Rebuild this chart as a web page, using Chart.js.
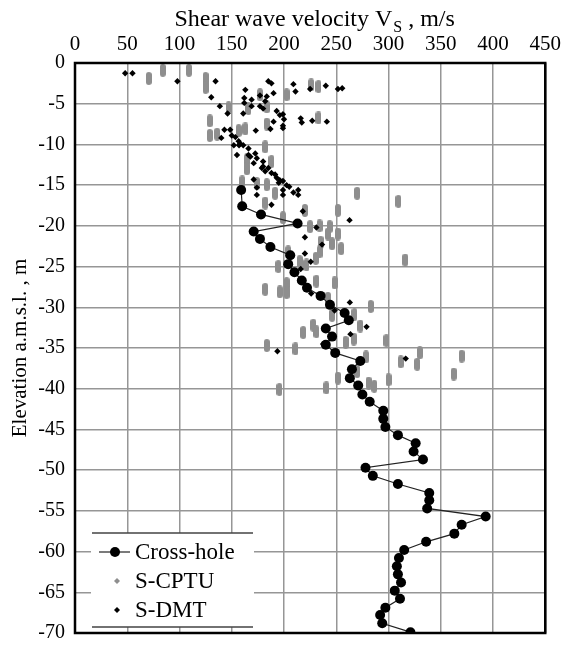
<!DOCTYPE html>
<html lang="en">
<head>
<meta charset="utf-8">
<title>Shear wave velocity profile</title>
<script src="https://cdn.jsdelivr.net/npm/chart.js"></script>
<style>
  html, body { margin: 0; padding: 0; background: #fff; }
</style>
</head>
<body>
<canvas id="vsChart" width="567" height="655"></canvas>
<script>
  // Cross-hole profile (connected points)
  const chElev = [-15.6, -17.6, -18.6, -19.7, -20.7, -21.6, -22.6, -23.6, -24.7, -25.7,
    -26.7, -27.6, -28.6, -29.7, -30.7, -31.6, -32.6, -33.6, -34.6, -35.6,
    -36.6, -37.6, -38.7, -39.6, -40.7, -41.6, -42.7, -43.7, -44.7, -45.7,
    -46.7, -47.7, -48.7, -49.7, -50.7, -51.7, -52.8, -53.7, -54.7, -55.7,
    -56.7, -57.8, -58.8, -59.8, -60.8, -61.8, -62.8, -63.8, -64.8, -65.8,
    -66.9, -67.8, -68.8, -69.9];
  const chVs = [159, 160, 178, 213, 171, 177, 187, 206, 204, 210,
    217, 222, 235, 244, 258, 262, 240, 246, 240, 249,
    273, 265, 263, 271, 275, 282, 295, 295, 297, 309,
    326, 324, 333, 278, 285, 309, 339, 339, 337, 393,
    370, 363, 336, 315, 310, 308, 309, 312, 306, 311,
    297, 292, 294, 321];

  // S-CPTU readings
  const cptuVs = [70.6, 84, 109, 125, 125, 129, 129, 136,
    202.5, 226, 233, 233, 177, 166, 183.5, 183.5, 147, 163, 156.6, 182,
    188, 164.5, 164.5, 183.5, 174, 160, 191.5, 182, 199, 220, 225, 234, 243.7,
    182, 194.6, 196, 231, 215, 235, 242, 202.5, 202.5,
    251.6, 246, 254.7, 230.4, 234, 221.5, 204, 248.4, 242, 246, 267.4, 283, 228, 273,
    231, 218.4, 259, 266.8, 298, 183.5, 211, 278.5, 251.6, 270, 281, 286.4, 300, 195.6, 240.5,
    270, 309.5, 251.6, 316, 330, 311.7, 327.5, 370, 362.4];
  const cptuElev = [-1.9, -0.9, -0.9, -1.9, -3.0, -7.1, -8.9, -8.75,
    -3.9, -2.7, -2.9, -6.75, -3.9, -5.6, -5.4, -7.5, -5.5, -8.1, -8.3, -10.3,
    -12.1, -11.9, -13.0, -14.95, -14.8, -14.6, -16.0, -17.2, -19.0, -18.1, -20.1, -20.0, -20.1,
    -27.8, -25.0, -28.1, -26.8, -24.4, -22.0, -21.0, -27.1, -28.2,
    -21.0, -22.2, -22.8, -24.0, -23.2, -24.8, -23.2, -27.0, -28.9, -31.0, -30.9, -29.9, -32.2, -32.3,
    -33.0, -33.1, -34.3, -33.9, -34.1, -34.7, -35.1, -36.1, -38.7, -37.9, -39.3, -39.7, -38.9, -40.1, -39.9,
    -16.0, -17.0, -18.1, -24.2, -35.6, -36.7, -37.0, -36.0, -38.2];

  // S-DMT readings
  const dmtVs = [48, 55, 98, 134.5, 130.4, 138.6, 146, 143, 140, 148.5,
    163, 185, 188, 190, 209, 211, 225, 240, 251.6, 255.7,
    162, 162, 169, 177, 183.5, 182, 169, 177, 180, 161, 193, 196, 199, 200, 190, 187, 199, 199, 216, 217, 227, 241, 173, 153.5,
    150, 156.6, 158, 152, 157, 161, 166, 155, 166, 172.5, 174, 171, 180, 180, 185, 188, 191.5, 193, 196, 195, 199, 202.5,
    171, 174, 174, 188, 199, 199, 205, 209, 213.6, 213.6, 218, 231,
    167.8, 178.8, 182,
    220, 236.4, 220, 225.6, 216, 226, 248.4, 263, 262.7, 279, 263.6, 237.4, 193.7, 316.5];
  const dmtElev = [-1.25, -1.25, -2.25, -2.25, -4.2, -5.3, -6.2, -8.2, -9.2, -8.2,
    -3.3, -2.25, -2.5, -3.7, -2.6, -3.5, -3.2, -2.8, -3.2, -3.1,
    -4.3, -4.9, -4.5, -4.0, -4.1, -4.7, -5.3, -5.3, -5.6, -6.2, -5.9, -6.4, -6.3, -6.9, -7.2, -8.1, -7.7, -8.0, -6.8, -7.3, -7.1, -7.2, -8.3, -9.1,
    -8.9, -9.6, -9.9, -10.1, -10.1, -10.1, -10.5, -11.3, -11.3, -11.1, -11.7, -12.3, -12.1, -12.7, -12.9, -13.5, -13.7, -14.1, -14.4, -14.7, -14.5, -15.0,
    -14.3, -15.3, -16.2, -17.4, -15.6, -16.2, -15.2, -15.9, -15.6, -16.2, -18.2, -20.2,
    -11.5, -12.9, -13.3,
    -21.4, -22.3, -23.4, -24.4, -25.3, -28.3, -30.4, -29.4, -19.3, -32.4, -33.3, -34.5, -35.4, -36.3];

  const toPoints = (xs, ys) => xs.map((v, i) => ({ x: v, y: ys[i] }));

  // gray elongated marker used for S-CPTU
  const cptuMark = document.createElement('canvas');
  cptuMark.width = 6;
  cptuMark.height = 13;
  (function () {
    const c = cptuMark.getContext('2d');
    c.fillStyle = '#8e8e8e';
    c.beginPath();
    c.moveTo(0, 3);
    c.arc(3, 3, 3, Math.PI, 0);
    c.lineTo(6, 10);
    c.arc(3, 10, 3, 0, Math.PI);
    c.closePath();
    c.fill();
  })();

  const serif = "'Liberation Serif', 'Times New Roman', serif";

  const extras = {
    id: 'extras',
    afterDraw(chart) {
      const ctx = chart.ctx;
      const a = chart.chartArea;
      ctx.save();

      // legend box
      const lx = 92, lr = 253, lt = 533, lb = 627;
      ctx.fillStyle = '#fff';
      ctx.fillRect(lx - 1, lt, lr - lx + 2, lb - lt);
      ctx.strokeStyle = '#444';
      ctx.lineWidth = 1.5;
      ctx.beginPath();
      ctx.moveTo(lx, lt); ctx.lineTo(lr, lt);
      ctx.moveTo(lx, lb); ctx.lineTo(lr, lb);
      ctx.stroke();

      ctx.strokeStyle = '#222';
      ctx.lineWidth = 1.2;
      ctx.beginPath();
      ctx.moveTo(99, 552); ctx.lineTo(130, 552);
      ctx.stroke();
      ctx.fillStyle = '#000';
      ctx.beginPath();
      ctx.arc(115, 552, 5, 0, Math.PI * 2);
      ctx.fill();

      ctx.fillStyle = '#8e8e8e';
      ctx.beginPath();
      ctx.moveTo(117, 578); ctx.lineTo(120, 581); ctx.lineTo(117, 584); ctx.lineTo(114, 581);
      ctx.fill();
      ctx.fillStyle = '#000';
      ctx.beginPath();
      ctx.moveTo(117, 607); ctx.lineTo(120, 610); ctx.lineTo(117, 613); ctx.lineTo(114, 610);
      ctx.fill();

      ctx.fillStyle = '#000';
      ctx.font = '23px ' + serif;
      ctx.textBaseline = 'middle';
      ctx.textAlign = 'left';
      ctx.fillText('Cross-hole', 135, 553);
      ctx.fillText('S-CPTU', 135, 582);
      ctx.fillText('S-DMT', 135, 611);

      // plot frame
      ctx.strokeStyle = '#000';
      ctx.lineWidth = 2.5;
      ctx.strokeRect(a.left, a.top, a.right - a.left, a.bottom - a.top);

      // top title with subscript
      const p1 = 'Shear wave velocity V', p2 = 'S', p3 = ' , m/s';
      ctx.textBaseline = 'alphabetic';
      ctx.font = '24px ' + serif;
      const w1 = ctx.measureText(p1).width, w3 = ctx.measureText(p3).width;
      ctx.font = '16px ' + serif;
      const w2 = ctx.measureText(p2).width;
      let x = (a.left + a.right) / 2 + 4 - (w1 + w2 + w3) / 2;
      ctx.font = '24px ' + serif;
      ctx.fillText(p1, x, 26);
      x += w1;
      ctx.font = '16px ' + serif;
      ctx.fillText(p2, x + 1, 32);
      x += w2 + 1;
      ctx.font = '24px ' + serif;
      ctx.fillText(p3, x, 26);

      ctx.restore();
    }
  };

  new Chart(document.getElementById('vsChart'), {
    type: 'scatter',
    data: {
      datasets: [
        {
          label: 'Cross-hole',
          data: toPoints(chVs, chElev),
          showLine: true,
          borderColor: '#222',
          borderWidth: 1.2,
          backgroundColor: '#000',
          pointBackgroundColor: '#000',
          pointBorderWidth: 0,
          pointRadius: 5,
          order: 1
        },
        {
          label: 'S-DMT',
          data: toPoints(dmtVs, dmtElev),
          pointStyle: 'rectRot',
          pointRadius: 3.2,
          pointBorderWidth: 0,
          backgroundColor: '#000',
          order: 2
        },
        {
          label: 'S-CPTU',
          data: toPoints(cptuVs, cptuElev),
          pointStyle: cptuMark,
          backgroundColor: '#8e8e8e',
          order: 3
        }
      ]
    },
    options: {
      responsive: false,
      animation: false,
      devicePixelRatio: 1,
      layout: { padding: { left: 0, top: 0, right: 18, bottom: 13 } },
      plugins: {
        legend: { display: false },
        tooltip: { enabled: false }
      },
      scales: {
        x: {
          type: 'linear',
          position: 'top',
          min: 0,
          max: 450,
          afterFit(scale) { scale.height = 63; },
          ticks: {
            stepSize: 50,
            padding: 6,
            color: '#000',
            font: { family: serif, size: 21 }
          },
          grid: { color: '#969696', lineWidth: 1.5, drawTicks: false },
          border: { display: false }
        },
        y: {
          type: 'linear',
          min: -70,
          max: 0,
          afterFit(scale) { scale.width = 75; },
          ticks: {
            stepSize: 5,
            padding: 10,
            autoSkip: false,
            color: '#000',
            font: { family: serif, size: 20 }
          },
          title: {
            display: true,
            text: 'Elevation a.m.s.l. , m',
            color: '#000',
            font: { family: serif, size: 21 },
            padding: { top: 8 }
          },
          grid: { color: '#969696', lineWidth: 1.5, drawTicks: false },
          border: { display: false }
        }
      }
    },
    plugins: [extras]
  });
</script>
</body>
</html>
